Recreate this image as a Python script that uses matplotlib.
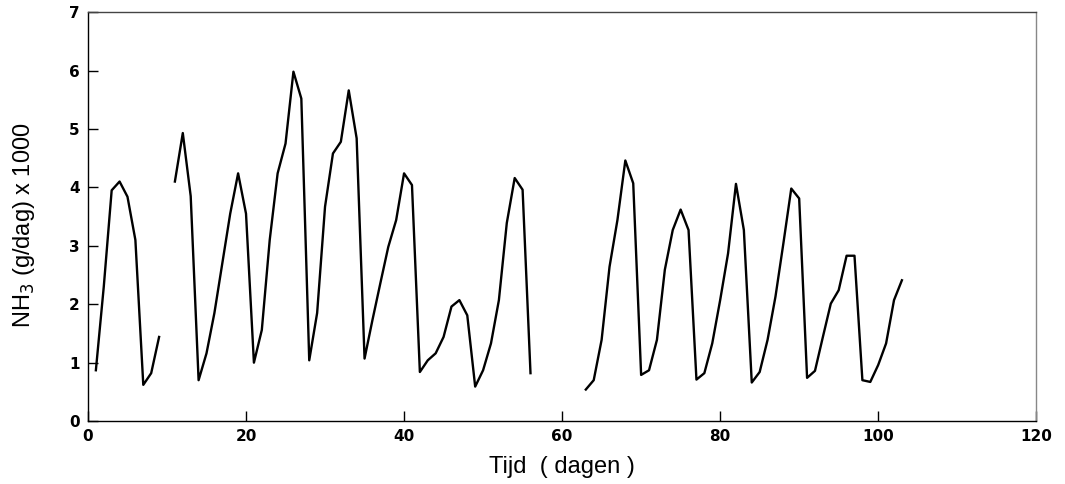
import numpy as np
import matplotlib
matplotlib.use('Agg')
import matplotlib.pyplot as plt

# NH3 emission per day (x1000), three measuring periods
days_a = [1, 2, 3, 4, 5, 6, 7, 8, 9]
nh3_a = [0.87, 2.3, 3.95, 4.1, 3.84, 3.1, 0.62, 0.82, 1.44]

days_b = list(range(11, 57))
nh3_b = [4.1, 4.93, 3.85, 0.70, 1.16, 1.85, 2.7, 3.55, 4.24, 3.55,
         1.0, 1.56, 3.1, 4.24, 4.75, 5.98, 5.52, 1.04, 1.85, 3.67,
         4.58, 4.78, 5.66, 4.84, 1.07, 1.73, 2.36, 2.98, 3.44, 4.24,
         4.04, 0.84, 1.04, 1.16, 1.44, 1.96, 2.07, 1.81, 0.59, 0.87,
         1.33, 2.07, 3.39, 4.16, 3.96, 0.82]

days_c = list(range(63, 104))
nh3_c = [0.54, 0.70, 1.39, 2.64, 3.44, 4.46, 4.07, 0.79, 0.87, 1.39,
         2.59, 3.27, 3.62, 3.27, 0.71, 0.82, 1.33, 2.07, 2.87, 4.06,
         3.27, 0.66, 0.84, 1.39, 2.13, 3.04, 3.98, 3.81, 0.74, 0.86,
         1.44, 2.01, 2.24, 2.83, 2.83, 0.70, 0.67, 0.96, 1.33, 2.07,
         2.41]

xticks = [0, 20, 40, 60, 80, 100, 120]
yticks = [0, 1, 2, 3, 4, 5, 6, 7]

plt.rcParams['font.family'] = ['Liberation Sans', 'DejaVu Sans']

fig = plt.figure(figsize=(10.65, 4.84), dpi=100)
ax = fig.add_axes([0.0826, 0.130, 0.8904, 0.845])

for d, v in [(days_a, nh3_a), (days_b, nh3_b), (days_c, nh3_c)]:
    ax.plot(d, v, color='black', lw=1.7)

ax.set_xlim(0, 120)
ax.set_ylim(0, 7)
ax.set_xticks(xticks)
ax.set_yticks(yticks)
ax.tick_params(direction='in', length=7, width=1, pad=6)
for lab in ax.get_xticklabels() + ax.get_yticklabels():
    lab.set_fontfamily('DejaVu Sans')
    lab.set_fontweight('bold')
    lab.set_fontsize(11)

for s in ax.spines.values():
    s.set_linewidth(1)
ax.spines['top'].set_color('#444444')
ax.spines['right'].set_color('#888888')

ax.set_xlabel('Tijd  ( dagen )', fontsize=17)
ax.xaxis.set_label_coords(0.5, -0.085)
ax.set_ylabel('NH$_3$ (g/dag) x 1000', fontsize=17)
ax.yaxis.set_label_coords(-0.054, 0.48)

fig.savefig('out.png', dpi=100)
